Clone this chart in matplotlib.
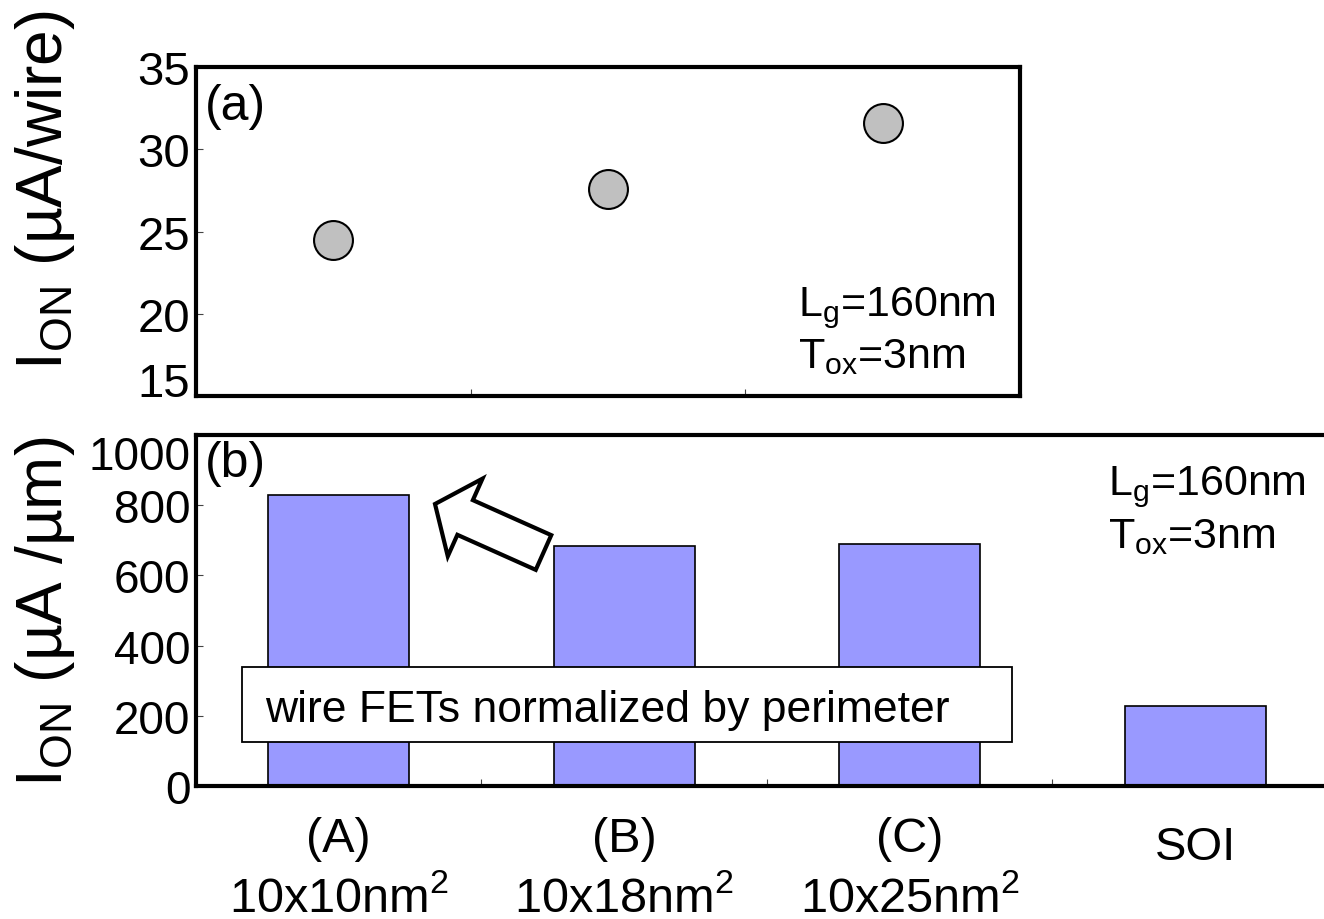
import matplotlib
matplotlib.use("Agg")
import matplotlib.pyplot as plt
from matplotlib.patches import Rectangle, FancyArrow
import matplotlib.transforms as mtransforms

plt.rcParams['font.family'] = ['Liberation Sans', 'DejaVu Sans']
plt.rcParams['mathtext.fontset'] = 'custom'
plt.rcParams['mathtext.rm'] = 'Liberation Sans'
plt.rcParams['mathtext.it'] = 'Liberation Sans'
plt.rcParams['mathtext.default'] = 'regular'

# (a) on-current per wire for the three wire cross-sections
wire_idx = [0, 1, 2]
ion_per_wire = [24.5, 27.6, 31.6]

# (b) on-current normalized by perimeter (wires) / width (SOI)
categories = ["(A)", "(B)", "(C)", "SOI"]
sizes = ["10x10nm$^2$", "10x18nm$^2$", "10x25nm$^2$", ""]
ion_per_um = [830, 684, 689, 228]

top_yticks = [15, 20, 25, 30, 35]
bot_yticks = [0, 200, 400, 600, 800, 1000]

W, H = 1324, 920
fig = plt.figure(figsize=(W / 100, H / 100), dpi=100)

ax1 = fig.add_axes([196 / W, 1 - 397 / H, 824 / W, 329 / H])
ax2 = fig.add_axes([196 / W, 1 - 787 / H, 1142 / W, 351 / H])

for ax in (ax1, ax2):
    for sp in ax.spines.values():
        sp.set_linewidth(3.0)
        sp.set_color('black')
    ax.tick_params(axis='y', direction='in', length=5, width=0.8,
                   color='#444444', pad=4)
    ax.tick_params(axis='x', which='both', direction='in', length=5,
                   width=0.8, color='#444444')

# ---- panel (a)
ax1.plot(wire_idx, ion_per_wire, linestyle='none', marker='o',
         markersize=28, markerfacecolor='#C0C0C0', markeredgecolor='black',
         markeredgewidth=1.5, clip_on=False)
ax1.set_xlim(-0.5, 2.5)
ax1.set_ylim(15, 35)
ax1.set_yticks(top_yticks)
ax1.set_yticklabels([str(v) for v in top_yticks], fontsize=34)
ax1.set_xticks([])
ax1.set_xticks([0.5, 1.5], minor=True)
ax1.tick_params(axis='x', which='minor', labelbottom=False)
# keep the lowest label clear of the panel below
ax1.get_yticklabels()[0].set_verticalalignment('baseline')

ax1.text(0.011, 0.95, "(a)", transform=ax1.transAxes, fontsize=36,
         va='top', ha='left')
ax1.text(0.7306, 0.246, "L$_g$=160nm", transform=ax1.transAxes,
         fontsize=31, va='baseline', ha='left')
ax1.text(0.7306, 0.088, "T$_{ox}$=3nm", transform=ax1.transAxes,
         fontsize=31, va='baseline', ha='left')

# ---- panel (b)
xpos = list(range(len(categories)))
ax2.bar(xpos, ion_per_um, width=0.495, color='#9999FF',
        edgecolor='black', linewidth=1.2, zorder=2)
ax2.set_xlim(-0.5, 3.5)
ax2.set_ylim(0, 1000)
ax2.set_yticks(bot_yticks)
ax2.set_yticklabels([str(v) for v in bot_yticks], fontsize=33)
ax2.set_xticks([])
ax2.set_xticks([0.5, 1.5, 2.5], minor=True)
ax2.tick_params(axis='x', which='minor', labelbottom=False)
ax2.get_yticklabels()[-1].set_verticalalignment('top')

lbl_tr = mtransforms.blended_transform_factory(ax2.transData, ax2.transAxes)
for x, cat, sz in zip(xpos, categories, sizes):
    if sz:
        ax2.text(x, -0.185, cat, transform=lbl_tr, fontsize=35,
                 ha='center', va='baseline', clip_on=False)
        ax2.text(x, -0.357, sz, transform=lbl_tr, fontsize=35,
                 ha='center', va='baseline', clip_on=False)
    else:
        ax2.text(x, -0.208, cat, transform=lbl_tr, fontsize=34,
                 ha='center', va='baseline', clip_on=False)

ax2.text(0.008, 0.985, "(b)", transform=ax2.transAxes, fontsize=36,
         va='top', ha='left')
ax2.text(0.7986, 0.832, "L$_g$=160nm", transform=ax2.transAxes,
         fontsize=31, va='baseline', ha='left')
ax2.text(0.7986, 0.681, "T$_{ox}$=3nm", transform=ax2.transAxes,
         fontsize=31, va='baseline', ha='left')

box = Rectangle((0.0403, 0.1254), 0.6742, 0.2137, transform=ax2.transAxes,
                facecolor='white', edgecolor='black', linewidth=1.3, zorder=3)
ax2.add_patch(box)
ax2.text(0.0604, 0.185, "wire FETs normalized by perimeter",
         transform=ax2.transAxes, fontsize=32, va='baseline', ha='left',
         zorder=4)

# hollow block arrow pointing at the narrowest wire
arrow = FancyArrow(5.435, 9.2 - 5.535, -1.085, 0.485, width=0.38,
                   head_width=0.85, head_length=0.33,
                   length_includes_head=True, transform=fig.dpi_scale_trans,
                   facecolor='white', edgecolor='black', linewidth=3.0,
                   zorder=5)
fig.add_artist(arrow)

# y-axis titles
fig.text(45 / W, 1 - 190 / H, "I$_{ON}$ (µA/wire)", rotation=90,
         fontsize=46, ha='center', va='center')
fig.text(45 / W, 1 - 612 / H, "I$_{ON}$ (µA /µm)", rotation=90,
         fontsize=46, ha='center', va='center')

fig.savefig("out.png", dpi=100)
